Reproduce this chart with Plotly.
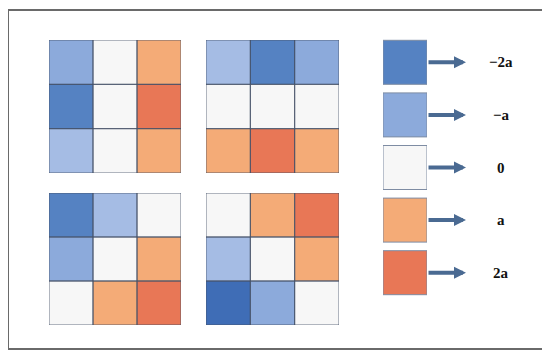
import plotly.graph_objects as go

# page offset of the default HTML body margin
OFF = 8
W, H = 550 - OFF, 359 - OFF

# ---- data ----
grid_rows = [0, 1, 2]
grid_cols = [0, 1, 2]
grid_a = [[-1, 0, 1], [-2, 0, 2], [-0.8, 0, 1]]
grid_b = [[-0.8, -2, -1], [0, 0, 0], [1, 2, 1]]
grid_c = [[-2, -0.8, 0], [-1, 0, 1], [0, 1, 2]]
grid_d = [[0, 1, 2], [-0.8, 0, 1], [-2.4, -1, 0]]
levels = [-2, -1, 0, 1, 2]
level_labels = ["\u22122a", "\u2212a", "0", "a", "2a"]

ZMIN, ZMAX = -2.5, 2.0
stops = [(-2.5, "#3A68B3"), (-2, "#5582C2"), (-1, "#8CAADB"), (-0.8, "#A5BCE4"),
         (0, "#F7F7F7"), (1, "#F4AB77"), (2, "#E87756")]
cscale = [[(v - ZMIN) / (ZMAX - ZMIN), c] for v, c in stops]

def px_dom(a, b):
    return [(a - OFF) / W, (b - OFF) / W]

def py_dom(top, bottom):
    return [1 - (bottom - OFF) / H, 1 - (top - OFF) / H]

fig = go.Figure()

grids = [grid_a, grid_b, grid_c, grid_d]
xdoms = [(49, 181), (206, 339), (49, 181), (206, 339)]
ydoms = [(40, 173), (40, 173), (193, 325), (193, 325)]

layout = dict()
shapes = []
line_col = "rgba(70,82,105,0.8)"
for k, (g, xd, yd) in enumerate(zip(grids, xdoms, ydoms), start=1):
    xa = "x" if k == 1 else f"x{k}"
    ya = "y" if k == 1 else f"y{k}"
    fig.add_trace(go.Heatmap(z=g, x=grid_cols, y=grid_rows, colorscale=cscale,
                             zmin=ZMIN, zmax=ZMAX, showscale=False,
                             xaxis=xa, yaxis=ya, hoverinfo="skip"))
    kx = "xaxis" if k == 1 else f"xaxis{k}"
    ky = "yaxis" if k == 1 else f"yaxis{k}"
    layout[kx] = dict(domain=px_dom(xd[0], xd[1]), range=[-0.5, 2.5],
                      visible=False, anchor=ya, fixedrange=True)
    layout[ky] = dict(domain=py_dom(yd[0], yd[1]), range=[2.5, -0.5],
                      visible=False, anchor=xa, fixedrange=True)
    for r in grid_rows:
        for c in grid_cols:
            shapes.append(dict(type="rect", xref=xa, yref=ya,
                               x0=c - 0.5, x1=c + 0.5, y0=r - 0.5, y1=r + 0.5,
                               line=dict(color=line_col, width=1),
                               fillcolor="rgba(0,0,0,0)"))

# legend squares
leg_pos = list(range(len(levels)))
fig.add_trace(go.Scatter(x=[0] * len(levels), y=leg_pos, mode="markers",
                         marker=dict(symbol="square", size=44, color=levels,
                                     colorscale=cscale, cmin=ZMIN, cmax=ZMAX,
                                     line=dict(color="#7E8CA3", width=1)),
                         xaxis="x5", yaxis="y5", hoverinfo="skip",
                         showlegend=False))
layout["xaxis5"] = dict(domain=px_dom(383, 427), range=[-0.5, 0.5],
                        visible=False, anchor="y5", fixedrange=True)
layout["yaxis5"] = dict(domain=py_dom(36, 299), range=[4.5, -0.5],
                        visible=False, anchor="x5", fixedrange=True)

annotations = []
for i, lab in zip(leg_pos, level_labels):
    annotations.append(dict(x=(466 - OFF) / W, xref="paper", y=i, yref="y5",
                            ax=-39, ay=0, axref="pixel", ayref="pixel",
                            text="", showarrow=True, arrowhead=2,
                            arrowsize=0.6, arrowwidth=4,
                            arrowcolor="#4A6A92"))
    annotations.append(dict(x=(501 - OFF) / W, xref="paper", y=i, yref="y5",
                            text=f"<b>{lab}</b>", showarrow=False,
                            font=dict(family="Liberation Serif, Times New Roman, serif",
                                      size=15, color="#111111"),
                            xanchor="center", yanchor="middle"))

# outer frame
shapes.append(dict(type="rect", xref="paper", yref="paper",
                   x0=(8 - OFF) / W, x1=(545 - OFF) / W,
                   y0=1 - (349 - OFF) / H, y1=1 - (10 - OFF) / H,
                   line=dict(color="#6A6A6A", width=2),
                   fillcolor="rgba(0,0,0,0)", layer="below"))

fig.update_layout(width=W, height=H, autosize=False,
                  margin=dict(l=0, r=0, t=0, b=0, pad=0),
                  paper_bgcolor="white", plot_bgcolor="white",
                  showlegend=False, shapes=shapes, annotations=annotations,
                  **layout)

fig.write_html("out.html")
